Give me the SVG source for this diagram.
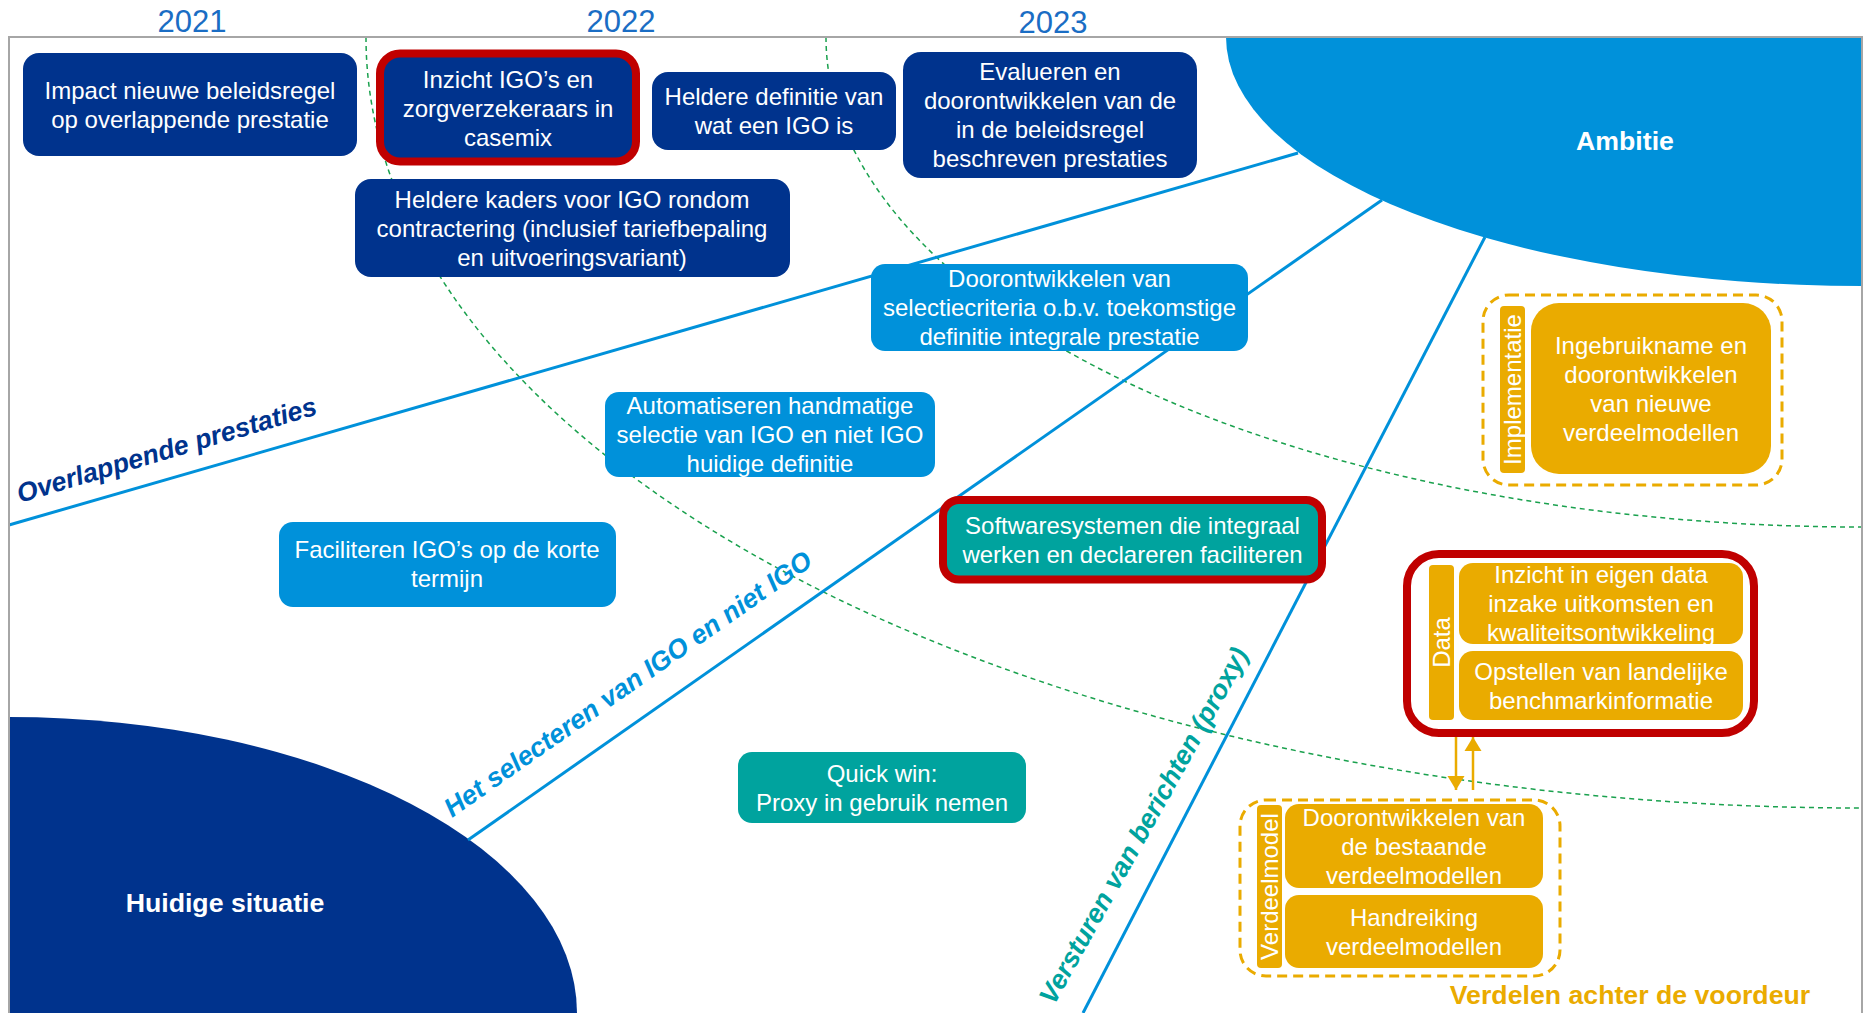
<svg xmlns="http://www.w3.org/2000/svg" width="1869" height="1013" viewBox="0 0 1869 1013">
<defs>
<style>
.t{font-family:"Liberation Sans",Arial,sans-serif;font-size:24px;fill:#fff;text-anchor:middle}
.yr{font-family:"Liberation Sans",Arial,sans-serif;font-size:31px;fill:#1A6DC4;text-anchor:middle}
.lbl{font-family:"Liberation Sans",Arial,sans-serif;font-size:26.7px;font-weight:bold}
.vt{font-family:"Liberation Sans",Arial,sans-serif;font-size:24px;fill:#fff;text-anchor:middle}
.navy{fill:#00338D}
.lblue{fill:#0091DA}
.teal{fill:#00A39E}
.org{fill:#EAAB00}
.redb{stroke:#C00000;stroke-width:8}
.dash{fill:none;stroke:#EAAB00;stroke-width:3;stroke-dasharray:10 6}
.arc{fill:none;stroke:#1AA14E;stroke-width:1.5;stroke-dasharray:5 4}
.bl{stroke:#0091DA;stroke-width:3;fill:none}
.ar{stroke:#EAAB00;stroke-width:2.5;fill:none}
</style>
<marker id="ah" markerUnits="userSpaceOnUse" markerWidth="18" markerHeight="18" refX="14" refY="9" orient="auto">
<path d="M0,0.5 L14,9 L0,17.5 Z" fill="#EAAB00"/>
</marker>
</defs>
<rect width="1869" height="1013" fill="#fff"/>

<g id="years">
<text class="yr" x="192" y="32">2021</text>
<text class="yr" x="621" y="32">2022</text>
<text class="yr" x="1053" y="33">2023</text>
</g>

<g id="ambitie">
<path d="M1226,37 A636,249 0 0 0 1862,286 L1862,37 Z" fill="#0091DA"/>
<text class="lbl" x="1625" y="150" fill="#fff" text-anchor="middle">Ambitie</text>
</g>
<g id="huidige">
<path d="M9,717 A568,296 0 0 1 577,1013 L9,1013 Z" fill="#00338D"/>
<text class="lbl" x="225" y="912" fill="#fff" text-anchor="middle">Huidige situatie</text>
</g>

<g id="guides">
<path class="arc" d="M366,37 A1496,771 0 0 0 1862,808"/>
<path class="arc" d="M826,37 A1036,490 0 0 0 1862,527"/>
</g>

<g id="connectors">
<line class="bl" x1="9" y1="525" x2="1298" y2="153"/>
<line class="bl" x1="468" y1="840" x2="1382" y2="200"/>
<line class="bl" x1="1083" y1="1013" x2="1485" y2="237"/>
<line class="ar" x1="1456" y1="737" x2="1456" y2="790" marker-end="url(#ah)"/>
<line class="ar" x1="1473" y1="790" x2="1473" y2="737" marker-end="url(#ah)"/>
</g>

<g id="line-labels">
<text class="lbl" transform="translate(20,503) rotate(-16.6)" fill="#00338D" font-style="italic">Overlappende prestaties</text>
<text class="lbl" transform="translate(452,818) rotate(-35)" fill="#0091DA" font-style="italic">Het selecteren van IGO en niet IGO</text>
<text class="lbl" transform="translate(1054,1006) rotate(-61)" fill="#00A39E" font-style="italic">Versturen van berichten (proxy)</text>
<text class="lbl" x="1630" y="1004" fill="#EAAB00" text-anchor="middle">Verdelen achter de voordeur</text>
</g>

<g id="box-impact">
<rect class="navy" x="23" y="53" width="334" height="103" rx="16"/>
<text class="t" x="190" y="99">Impact nieuwe beleidsregel</text>
<text class="t" x="190" y="128">op overlappende prestatie</text>
</g>
<g id="box-inzicht-igo">
<rect class="navy redb" x="380" y="53.5" width="256" height="108" rx="20"/>
<text class="t" x="508" y="87.5">Inzicht IGO’s en</text>
<text class="t" x="508" y="116.5">zorgverzekeraars in</text>
<text class="t" x="508" y="145.5">casemix</text>
</g>
<g id="box-definitie">
<rect class="navy" x="652" y="72" width="244" height="78" rx="16"/>
<text class="t" x="774" y="105">Heldere definitie van</text>
<text class="t" x="774" y="134">wat een IGO is</text>
</g>
<g id="box-evalueren">
<rect class="navy" x="903" y="52" width="294" height="126" rx="18"/>
<text class="t" x="1050" y="80">Evalueren en</text>
<text class="t" x="1050" y="109">doorontwikkelen van de</text>
<text class="t" x="1050" y="138">in de beleidsregel</text>
<text class="t" x="1050" y="167">beschreven prestaties</text>
</g>
<g id="box-kaders">
<rect class="navy" x="355" y="179" width="435" height="98" rx="16"/>
<text class="t" x="572" y="207.5">Heldere kaders voor IGO rondom</text>
<text class="t" x="572" y="236.5">contractering (inclusief tariefbepaling</text>
<text class="t" x="572" y="265.5">en uitvoeringsvariant)</text>
</g>
<g id="box-selectiecriteria">
<rect class="lblue" x="871" y="264" width="377" height="87" rx="14"/>
<text class="t" x="1059.5" y="287">Doorontwikkelen van</text>
<text class="t" x="1059.5" y="316">selectiecriteria o.b.v. toekomstige</text>
<text class="t" x="1059.5" y="345">definitie integrale prestatie</text>
</g>
<g id="box-automatiseren">
<rect class="lblue" x="605" y="392" width="330" height="85" rx="14"/>
<text class="t" x="770" y="414">Automatiseren handmatige</text>
<text class="t" x="770" y="443">selectie van IGO en niet IGO</text>
<text class="t" x="770" y="472">huidige definitie</text>
</g>
<g id="box-faciliteren">
<rect class="lblue" x="279" y="522" width="337" height="85" rx="14"/>
<text class="t" x="447" y="558">Faciliteren IGO’s op de korte</text>
<text class="t" x="447" y="587">termijn</text>
</g>
<g id="box-software">
<rect class="teal redb" x="943" y="500" width="379" height="79.5" rx="16"/>
<text class="t" x="1132.5" y="534">Softwaresystemen die integraal</text>
<text class="t" x="1132.5" y="563">werken en declareren faciliteren</text>
</g>
<g id="box-quickwin">
<rect class="teal" x="738" y="752" width="288" height="71" rx="14"/>
<text class="t" x="882" y="782">Quick win:</text>
<text class="t" x="882" y="811">Proxy in gebruik nemen</text>
</g>

<g id="group-implementatie">
<rect class="dash" x="1483" y="295" width="299" height="190" rx="26"/>
<rect class="org" x="1500" y="306" width="25" height="167" rx="4"/>
<text class="vt" transform="translate(1521,389.5) rotate(-90)">Implementatie</text>
<rect class="org" x="1531" y="303" width="240" height="171" rx="28"/>
<text class="t" x="1651" y="353.5">Ingebruikname en</text>
<text class="t" x="1651" y="382.5">doorontwikkelen</text>
<text class="t" x="1651" y="411.5">van nieuwe</text>
<text class="t" x="1651" y="440.5">verdeelmodellen</text>
</g>

<g id="group-data">
<rect x="1407" y="554" width="347" height="179" rx="32" fill="#fff" stroke="#C00000" stroke-width="8"/>
<rect class="org" x="1429" y="565" width="25" height="155" rx="4"/>
<text class="vt" transform="translate(1450,642.5) rotate(-90)">Data</text>
<rect class="org" x="1459" y="563" width="284" height="81" rx="14"/>
<text class="t" x="1601" y="583">Inzicht in eigen data</text>
<text class="t" x="1601" y="612">inzake uitkomsten en</text>
<text class="t" x="1601" y="641">kwaliteitsontwikkeling</text>
<rect class="org" x="1459" y="651" width="284" height="69" rx="14"/>
<text class="t" x="1601" y="679.5">Opstellen van landelijke</text>
<text class="t" x="1601" y="708.5">benchmarkinformatie</text>
</g>

<g id="group-verdeelmodel">
<rect class="dash" x="1240" y="800" width="320" height="176" rx="26"/>
<rect class="org" x="1257" y="805" width="25" height="163" rx="4"/>
<text class="vt" transform="translate(1278,886.5) rotate(-90)">Verdeelmodel</text>
<rect class="org" x="1285" y="804" width="258" height="84" rx="14"/>
<text class="t" x="1414" y="825.5">Doorontwikkelen van</text>
<text class="t" x="1414" y="854.5">de bestaande</text>
<text class="t" x="1414" y="883.5">verdeelmodellen</text>
<rect class="org" x="1285" y="895" width="258" height="73" rx="14"/>
<text class="t" x="1414" y="926">Handreiking</text>
<text class="t" x="1414" y="955">verdeelmodellen</text>
</g>

<path id="frame" d="M9,1013 V37 H1862 V1013" fill="none" stroke="#A6A6A6" stroke-width="2"/>
</svg>
